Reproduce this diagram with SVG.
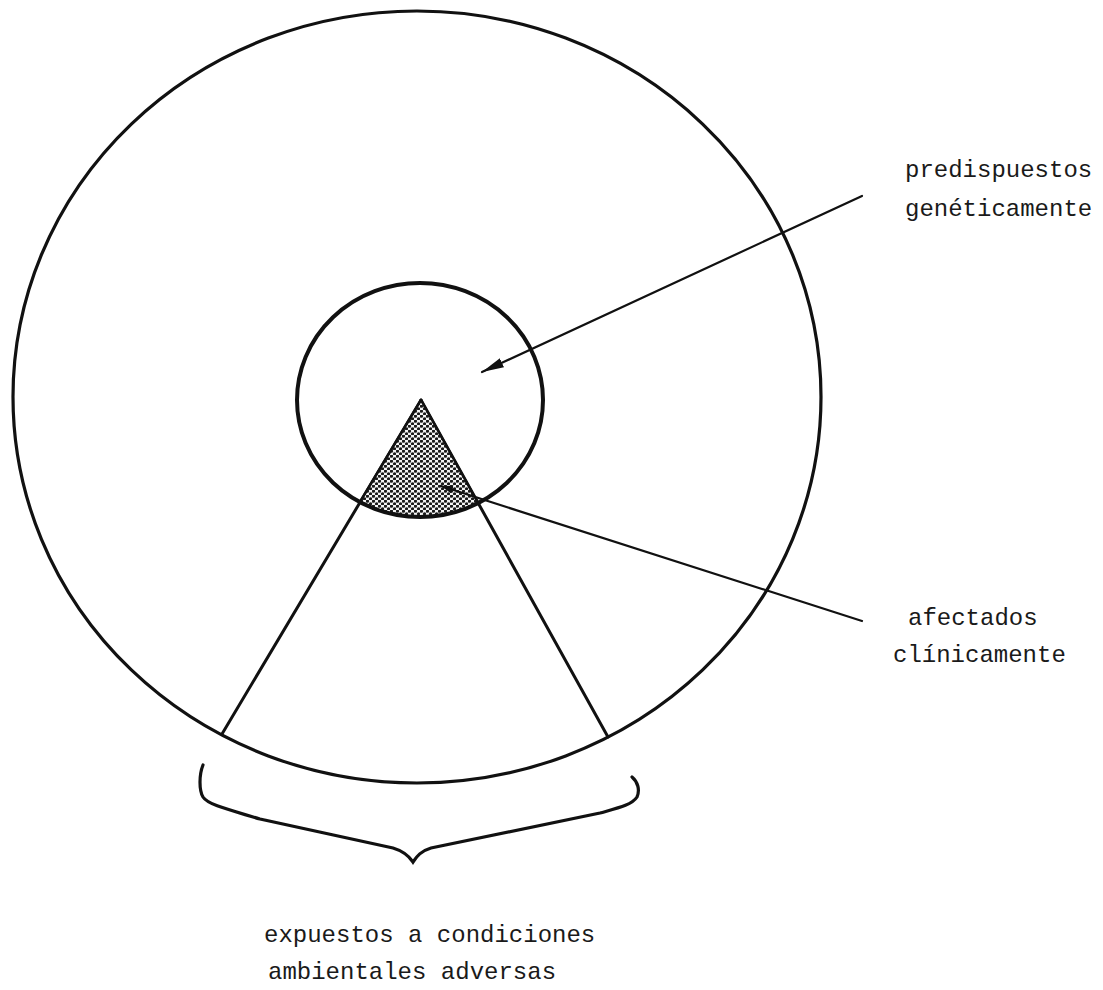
<svg xmlns="http://www.w3.org/2000/svg" width="1103" height="990" viewBox="0 0 1103 990">
<style>
.lbl{font-family:"Liberation Mono","Courier New",monospace;font-size:24px;fill:#1a1a1a}
.ln{fill:none;stroke:#111;stroke-linecap:round}
</style>
<defs>
<pattern id="dots" patternUnits="userSpaceOnUse" width="6" height="5">
<rect width="6" height="5" fill="#f4f4f4"/>
<circle cx="1.5" cy="1.25" r="1.6" fill="#1a1a1a"/>
<circle cx="4.5" cy="3.75" r="1.6" fill="#1a1a1a"/>
</pattern>
<marker id="ah" markerUnits="userSpaceOnUse" markerWidth="24" markerHeight="12" refX="22" refY="5" orient="auto">
<path d="M0,0 L22,5 L0,10 Z" fill="#111"/>
</marker>
<marker id="ahs" markerUnits="userSpaceOnUse" markerWidth="14" markerHeight="10" refX="12" refY="4" orient="auto">
<path d="M0,0 L12,4 L0,8 Z" fill="#111"/>
</marker>
</defs>
<rect width="1103" height="990" fill="#fff"/>
<g id="outer">
<ellipse cx="417" cy="397" rx="404" ry="386" class="ln" stroke-width="3.2"/>
</g>
<g id="sector">
<line x1="421" y1="400" x2="222" y2="734" class="ln" stroke-width="3"/>
<line x1="421" y1="400" x2="608" y2="737" class="ln" stroke-width="3"/>
</g>
<g id="affected">
<path d="M421,400 L360,502 A123,117 0 0 0 478,503 Z" fill="url(#dots)" stroke="#111" stroke-width="2.5" stroke-linejoin="round"/>
</g>
<g id="inner">
<ellipse cx="420" cy="400" rx="123" ry="117" class="ln" stroke-width="4"/>
</g>
<g id="brace">
<path d="M203,765 C199,775 199,790 203,797 C208,805 230,810 260,819 L393,848 C403,851 409,856 413,862 C417,856 421,851 431,848 L600,813 C618,808 632,805 637,797 C640,790 638,782 632,777" class="ln" stroke-width="3.2"/>
</g>
<g id="connectors">
<line x1="862" y1="196" x2="482" y2="372" class="ln" stroke-width="2.2" marker-end="url(#ah)"/>
<line x1="862" y1="621" x2="441" y2="486" class="ln" stroke-width="2.2" marker-end="url(#ahs)"/>
</g>
<g id="label-predispuestos">
<text x="905" y="177" class="lbl">predispuestos</text>
<text x="905" y="216" class="lbl">genéticamente</text>
</g>
<g id="label-afectados">
<text x="908" y="625" class="lbl">afectados</text>
<text x="893" y="662" class="lbl">clínicamente</text>
</g>
<g id="label-expuestos">
<text x="264" y="942" class="lbl">expuestos a condiciones</text>
<text x="268" y="979" class="lbl">ambientales adversas</text>
</g>
</svg>
